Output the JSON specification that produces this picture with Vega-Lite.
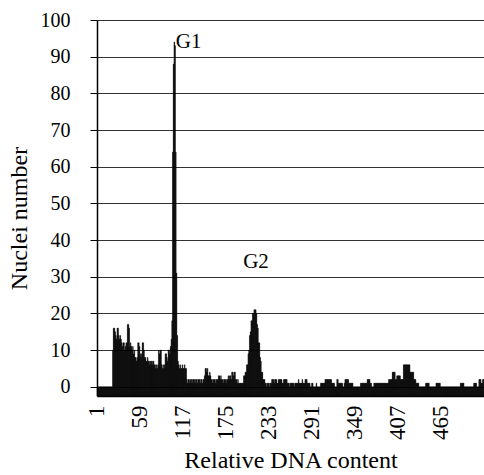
{
"$schema": "https://vega.github.io/schema/vega-lite/v6.json",
"width": 387, "height": 376,
"autosize": {"type": "none"},
"padding": {"left": 97, "top": 20, "right": 0, "bottom": 79},
"background": "white",
"config": {"view": {"stroke": null}, "font": "Liberation Serif"},
"datasets": {
"labels": [{"c": 107, "n": 94, "t": "G1"}, {"c": 198, "n": 34, "t": "G2"}],
"hist": [
{"c":1,"n":0},{"c":2,"n":0},{"c":3,"n":0},{"c":4,"n":0},{"c":5,"n":0},{"c":6,"n":0},{"c":7,"n":0},{"c":8,"n":0},{"c":9,"n":0},{"c":10,"n":0},
{"c":11,"n":0},{"c":12,"n":0},{"c":13,"n":0},{"c":14,"n":0},{"c":15,"n":0},{"c":16,"n":0},{"c":17,"n":0},{"c":18,"n":0},{"c":19,"n":0},{"c":20,"n":0},
{"c":21,"n":0},{"c":22,"n":10},{"c":23,"n":16},{"c":24,"n":16},{"c":25,"n":15},{"c":26,"n":14},{"c":27,"n":13},{"c":28,"n":16},{"c":29,"n":16},{"c":30,"n":14},
{"c":31,"n":13},{"c":32,"n":14},{"c":33,"n":13},{"c":34,"n":12},{"c":35,"n":11},{"c":36,"n":12},{"c":37,"n":12},{"c":38,"n":10},{"c":39,"n":11},{"c":40,"n":12},
{"c":41,"n":12},{"c":42,"n":17},{"c":43,"n":17},{"c":44,"n":16},{"c":45,"n":11},{"c":46,"n":12},{"c":47,"n":11},{"c":48,"n":10},{"c":49,"n":11},{"c":50,"n":9},
{"c":51,"n":10},{"c":52,"n":8},{"c":53,"n":8},{"c":54,"n":7},{"c":55,"n":8},{"c":56,"n":12},{"c":57,"n":12},{"c":58,"n":11},{"c":59,"n":9},{"c":60,"n":8},
{"c":61,"n":9},{"c":62,"n":12},{"c":63,"n":12},{"c":64,"n":10},{"c":65,"n":8},{"c":66,"n":8},{"c":67,"n":7},{"c":68,"n":7},{"c":69,"n":8},{"c":70,"n":7},
{"c":71,"n":7},{"c":72,"n":6},{"c":73,"n":7},{"c":74,"n":7},{"c":75,"n":6},{"c":76,"n":7},{"c":77,"n":7},{"c":78,"n":6},{"c":79,"n":6},{"c":80,"n":5},
{"c":81,"n":6},{"c":82,"n":5},{"c":83,"n":6},{"c":84,"n":10},{"c":85,"n":9},{"c":86,"n":10},{"c":87,"n":10},{"c":88,"n":6},{"c":89,"n":5},{"c":90,"n":6},
{"c":91,"n":5},{"c":92,"n":6},{"c":93,"n":9},{"c":94,"n":9},{"c":95,"n":8},{"c":96,"n":7},{"c":97,"n":10},{"c":98,"n":10},{"c":99,"n":9},{"c":100,"n":11},
{"c":101,"n":13},{"c":102,"n":18},{"c":103,"n":64},{"c":104,"n":88},{"c":105,"n":94},{"c":106,"n":93},{"c":107,"n":64},{"c":108,"n":31},{"c":109,"n":14},{"c":110,"n":7},
{"c":111,"n":6},{"c":112,"n":5},{"c":113,"n":6},{"c":114,"n":5},{"c":115,"n":5},{"c":116,"n":6},{"c":117,"n":5},{"c":118,"n":5},{"c":119,"n":6},{"c":120,"n":5},
{"c":121,"n":5},{"c":122,"n":2},{"c":123,"n":1},{"c":124,"n":2},{"c":125,"n":2},{"c":126,"n":1},{"c":127,"n":2},{"c":128,"n":2},{"c":129,"n":1},{"c":130,"n":2},
{"c":131,"n":2},{"c":132,"n":2},{"c":133,"n":1},{"c":134,"n":2},{"c":135,"n":2},{"c":136,"n":1},{"c":137,"n":2},{"c":138,"n":2},{"c":139,"n":2},{"c":140,"n":1},
{"c":141,"n":2},{"c":142,"n":2},{"c":143,"n":1},{"c":144,"n":2},{"c":145,"n":2},{"c":146,"n":3},{"c":147,"n":5},{"c":148,"n":5},{"c":149,"n":4},{"c":150,"n":5},
{"c":151,"n":3},{"c":152,"n":3},{"c":153,"n":4},{"c":154,"n":3},{"c":155,"n":2},{"c":156,"n":2},{"c":157,"n":1},{"c":158,"n":2},{"c":159,"n":2},{"c":160,"n":2},
{"c":161,"n":1},{"c":162,"n":2},{"c":163,"n":2},{"c":164,"n":2},{"c":165,"n":3},{"c":166,"n":3},{"c":167,"n":2},{"c":168,"n":3},{"c":169,"n":2},{"c":170,"n":2},
{"c":171,"n":1},{"c":172,"n":2},{"c":173,"n":2},{"c":174,"n":2},{"c":175,"n":1},{"c":176,"n":2},{"c":177,"n":2},{"c":178,"n":3},{"c":179,"n":2},{"c":180,"n":3},
{"c":181,"n":3},{"c":182,"n":2},{"c":183,"n":4},{"c":184,"n":4},{"c":185,"n":3},{"c":186,"n":4},{"c":187,"n":4},{"c":188,"n":2},{"c":189,"n":2},{"c":190,"n":1},
{"c":191,"n":2},{"c":192,"n":1},{"c":193,"n":1},{"c":194,"n":1},{"c":195,"n":1},{"c":196,"n":1},{"c":197,"n":1},{"c":198,"n":1},{"c":199,"n":3},{"c":200,"n":3},
{"c":201,"n":4},{"c":202,"n":4},{"c":203,"n":6},{"c":204,"n":6},{"c":205,"n":9},{"c":206,"n":10},{"c":207,"n":14},{"c":208,"n":15},{"c":209,"n":18},{"c":210,"n":18},
{"c":211,"n":20},{"c":212,"n":20},{"c":213,"n":21},{"c":214,"n":21},{"c":215,"n":21},{"c":216,"n":20},{"c":217,"n":17},{"c":218,"n":16},{"c":219,"n":12},{"c":220,"n":12},
{"c":221,"n":8},{"c":222,"n":7},{"c":223,"n":4},{"c":224,"n":4},{"c":225,"n":2},{"c":226,"n":2},{"c":227,"n":2},{"c":228,"n":1},{"c":229,"n":1},{"c":230,"n":0},
{"c":231,"n":1},{"c":232,"n":1},{"c":233,"n":1},{"c":234,"n":0},{"c":235,"n":1},{"c":236,"n":1},{"c":237,"n":2},{"c":238,"n":2},{"c":239,"n":2},{"c":240,"n":1},
{"c":241,"n":2},{"c":242,"n":2},{"c":243,"n":2},{"c":244,"n":1},{"c":245,"n":1},{"c":246,"n":2},{"c":247,"n":2},{"c":248,"n":2},{"c":249,"n":2},{"c":250,"n":2},
{"c":251,"n":1},{"c":252,"n":1},{"c":253,"n":2},{"c":254,"n":2},{"c":255,"n":2},{"c":256,"n":2},{"c":257,"n":2},{"c":258,"n":1},{"c":259,"n":1},{"c":260,"n":1},
{"c":261,"n":0},{"c":262,"n":1},{"c":263,"n":1},{"c":264,"n":1},{"c":265,"n":1},{"c":266,"n":1},{"c":267,"n":0},{"c":268,"n":1},{"c":269,"n":1},{"c":270,"n":1},
{"c":271,"n":1},{"c":272,"n":1},{"c":273,"n":2},{"c":274,"n":1},{"c":275,"n":1},{"c":276,"n":1},{"c":277,"n":1},{"c":278,"n":2},{"c":279,"n":1},{"c":280,"n":1},
{"c":281,"n":1},{"c":282,"n":2},{"c":283,"n":2},{"c":284,"n":2},{"c":285,"n":1},{"c":286,"n":1},{"c":287,"n":1},{"c":288,"n":1},{"c":289,"n":0},{"c":290,"n":0},
{"c":291,"n":1},{"c":292,"n":1},{"c":293,"n":0},{"c":294,"n":0},{"c":295,"n":0},{"c":296,"n":0},{"c":297,"n":1},{"c":298,"n":0},{"c":299,"n":0},{"c":300,"n":0},
{"c":301,"n":0},{"c":302,"n":0},{"c":303,"n":1},{"c":304,"n":1},{"c":305,"n":1},{"c":306,"n":1},{"c":307,"n":1},{"c":308,"n":1},{"c":309,"n":2},{"c":310,"n":2},
{"c":311,"n":2},{"c":312,"n":2},{"c":313,"n":2},{"c":314,"n":2},{"c":315,"n":2},{"c":316,"n":2},{"c":317,"n":2},{"c":318,"n":1},{"c":319,"n":1},{"c":320,"n":1},
{"c":321,"n":1},{"c":322,"n":0},{"c":323,"n":0},{"c":324,"n":0},{"c":325,"n":2},{"c":326,"n":2},{"c":327,"n":1},{"c":328,"n":1},{"c":329,"n":1},{"c":330,"n":1},
{"c":331,"n":1},{"c":332,"n":1},{"c":333,"n":0},{"c":334,"n":0},{"c":335,"n":1},{"c":336,"n":2},{"c":337,"n":2},{"c":338,"n":2},{"c":339,"n":2},{"c":340,"n":2},
{"c":341,"n":1},{"c":342,"n":1},{"c":343,"n":1},{"c":344,"n":1},{"c":345,"n":1},{"c":346,"n":1},{"c":347,"n":0},{"c":348,"n":0},{"c":349,"n":0},{"c":350,"n":0},
{"c":351,"n":0},{"c":352,"n":0},{"c":353,"n":0},{"c":354,"n":0},{"c":355,"n":0},{"c":356,"n":0},{"c":357,"n":1},{"c":358,"n":1},{"c":359,"n":1},{"c":360,"n":1},
{"c":361,"n":1},{"c":362,"n":1},{"c":363,"n":1},{"c":364,"n":1},{"c":365,"n":1},{"c":366,"n":2},{"c":367,"n":2},{"c":368,"n":2},{"c":369,"n":2},{"c":370,"n":1},
{"c":371,"n":1},{"c":372,"n":0},{"c":373,"n":0},{"c":374,"n":0},{"c":375,"n":1},{"c":376,"n":1},{"c":377,"n":1},{"c":378,"n":1},{"c":379,"n":1},{"c":380,"n":1},
{"c":381,"n":1},{"c":382,"n":1},{"c":383,"n":1},{"c":384,"n":1},{"c":385,"n":1},{"c":386,"n":1},{"c":387,"n":1},{"c":388,"n":1},{"c":389,"n":1},{"c":390,"n":1},
{"c":391,"n":1},{"c":392,"n":1},{"c":393,"n":1},{"c":394,"n":1},{"c":395,"n":2},{"c":396,"n":2},{"c":397,"n":2},{"c":398,"n":2},{"c":399,"n":2},{"c":400,"n":4},
{"c":401,"n":4},{"c":402,"n":4},{"c":403,"n":4},{"c":404,"n":2},{"c":405,"n":2},{"c":406,"n":3},{"c":407,"n":3},{"c":408,"n":3},{"c":409,"n":3},{"c":410,"n":3},
{"c":411,"n":2},{"c":412,"n":2},{"c":413,"n":2},{"c":414,"n":2},{"c":415,"n":6},{"c":416,"n":6},{"c":417,"n":6},{"c":418,"n":6},{"c":419,"n":6},{"c":420,"n":6},
{"c":421,"n":6},{"c":422,"n":6},{"c":423,"n":6},{"c":424,"n":4},{"c":425,"n":4},{"c":426,"n":4},{"c":427,"n":4},{"c":428,"n":4},{"c":429,"n":2},{"c":430,"n":2},
{"c":431,"n":2},{"c":432,"n":1},{"c":433,"n":1},{"c":434,"n":1},{"c":435,"n":1},{"c":436,"n":0},{"c":437,"n":0},{"c":438,"n":0},{"c":439,"n":0},{"c":440,"n":0},
{"c":441,"n":0},{"c":442,"n":0},{"c":443,"n":0},{"c":444,"n":0},{"c":445,"n":1},{"c":446,"n":1},{"c":447,"n":1},{"c":448,"n":1},{"c":449,"n":1},{"c":450,"n":0},
{"c":451,"n":0},{"c":452,"n":0},{"c":453,"n":0},{"c":454,"n":0},{"c":455,"n":0},{"c":456,"n":0},{"c":457,"n":0},{"c":458,"n":0},{"c":459,"n":1},{"c":460,"n":1},
{"c":461,"n":1},{"c":462,"n":1},{"c":463,"n":1},{"c":464,"n":1},{"c":465,"n":0},{"c":466,"n":0},{"c":467,"n":0},{"c":468,"n":0},{"c":469,"n":0},{"c":470,"n":0},
{"c":471,"n":0},{"c":472,"n":0},{"c":473,"n":0},{"c":474,"n":0},{"c":475,"n":0},{"c":476,"n":0},{"c":477,"n":0},{"c":478,"n":0},{"c":479,"n":0},{"c":480,"n":0},
{"c":481,"n":0},{"c":482,"n":0},{"c":483,"n":0},{"c":484,"n":0},{"c":485,"n":0},{"c":486,"n":0},{"c":487,"n":0},{"c":488,"n":0},{"c":489,"n":0},{"c":490,"n":0},
{"c":491,"n":0},{"c":492,"n":1},{"c":493,"n":1},{"c":494,"n":1},{"c":495,"n":1},{"c":496,"n":1},{"c":497,"n":0},{"c":498,"n":0},{"c":499,"n":0},{"c":500,"n":0},
{"c":501,"n":0},{"c":502,"n":0},{"c":503,"n":0},{"c":504,"n":0},{"c":505,"n":0},{"c":506,"n":0},{"c":507,"n":0},{"c":508,"n":0},{"c":509,"n":0},{"c":510,"n":1},
{"c":511,"n":1},{"c":512,"n":1},{"c":513,"n":1},{"c":514,"n":0},{"c":515,"n":0},{"c":516,"n":0},{"c":517,"n":2},{"c":518,"n":2},{"c":519,"n":2},{"c":520,"n":1},
{"c":521,"n":1},{"c":522,"n":2},{"c":523,"n":2}
]
},
"encoding": {
"x": {"field": "c", "type": "ordinal", "sort": "ascending",
 "scale": {"paddingInner": 0, "paddingOuter": 0},
 "axis": {"values": [1, 59, 117, 175, 233, 291, 349, 407, 465], "labelAngle": 270, "labelAlign": "right", "labelBaseline": "middle",
  "labelFont": "Liberation Serif", "labelFontSize": 23, "labelColor": "black", "labelPadding": 9, "labelOverlap": false,
  "ticks": false, "domainColor": "black", "domainWidth": 1.5,
  "title": "Relative DNA content", "titleFont": "Liberation Serif", "titleFontSize": 24, "titleFontWeight": "normal", "titleColor": "black", "titlePadding": 9}},
"y": {"field": "n", "type": "quantitative",
 "scale": {"domain": [-2.5, 100], "nice": false, "zero": false},
 "axis": {"values": [0, 10, 20, 30, 40, 50, 60, 70, 80, 90, 100], "tickCount": 11, "labelFont": "Liberation Serif", "labelFontSize": 20, "labelColor": "black", "labelPadding": 20, "labelOverlap": false,
  "tickColor": "black", "tickSize": 7, "domainColor": "black", "domainWidth": 1.5, "grid": true, "gridColor": "#333", "gridWidth": 1,
  "title": "Nuclei number", "titleFont": "Liberation Serif", "titleFontSize": 24, "titleFontWeight": "normal", "titleColor": "black", "titlePadding": 9, "titleY": 198}}
},
"layer": [
{
"data": {"name": "hist"},
"mark": {"type": "bar", "color": "black", "stroke": "black", "strokeWidth": 0.4},
"encoding": {"y2": {"datum": -2.5}}
},
{
"data": {"name": "labels"},
"mark": {"type": "text", "align": "left", "baseline": "middle", "font": "Liberation Serif", "fontSize": 21, "color": "black"},
"encoding": {"text": {"field": "t"}}
}
]
}
